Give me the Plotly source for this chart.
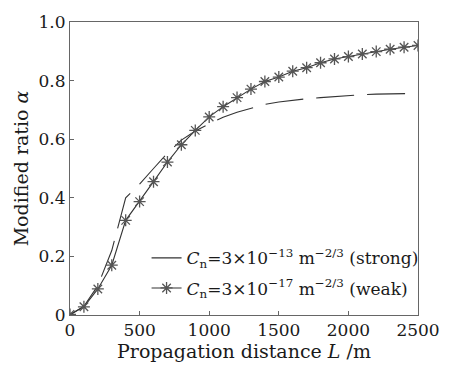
import plotly.graph_objects as go

dist_weak = [0, 100, 200, 300, 400, 500, 600, 700, 800, 900, 1000, 1100, 1200, 1300,
             1400, 1500, 1600, 1700, 1800, 1900, 2000, 2100, 2200, 2300, 2400, 2500]
alpha_weak = [0.002, 0.028, 0.089, 0.17, 0.323, 0.387, 0.455, 0.522, 0.581, 0.63, 0.676,
              0.711, 0.742, 0.771, 0.797, 0.812, 0.832, 0.844, 0.861, 0.874, 0.882,
              0.891, 0.899, 0.907, 0.914, 0.92]

dist_strong = [0, 100, 200, 300, 400, 500, 600, 700, 800, 900, 1000, 1100, 1200, 1300,
               1400, 1500, 1600, 1700, 1800, 1900, 2000, 2100, 2200, 2300, 2400, 2500]
alpha_strong = [0.0, 0.03, 0.1, 0.22, 0.40, 0.447, 0.50, 0.552, 0.597, 0.628, 0.652,
                0.675, 0.692, 0.706, 0.719, 0.727, 0.733, 0.738, 0.742, 0.746, 0.75,
                0.752, 0.754, 0.755, 0.756, 0.756]

x_ticks = [0, 500, 1000, 1500, 2000, 2500]
x_ticktext = ["0", "500", "1000", "1500", "2000", "2500"]
y_ticks = [0, 0.2, 0.4, 0.6, 0.8, 1.0]
y_ticktext = ["0", "0.2", "0.4", "0.6", "0.8", "1.0"]

label_strong = "<i>C</i><sub>n</sub>=3×10<sup>−13</sup> m<sup>−2/3</sup> (strong)"
label_weak = "<i>C</i><sub>n</sub>=3×10<sup>−17</sup> m<sup>−2/3</sup> (weak)"

FONT = "DejaVu Serif"
fig = go.Figure()
fig.add_trace(go.Scatter(
    x=dist_strong, y=alpha_strong, mode="lines", name=label_strong,
    legendgroup="strong",
    line=dict(color="#333333", width=1.1, dash="38px,13px"),
))
fig.add_trace(go.Scatter(
    x=dist_weak, y=alpha_weak, mode="lines+markers", name=label_weak,
    legendgroup="weak",
    line=dict(color="#333333", width=1.1),
    marker=dict(symbol="asterisk-open", size=10, color="#555555",
                line=dict(color="#555555", width=1.3)),
))

fig.update_layout(
    width=452, height=368,
    margin=dict(l=70, r=23, t=20, b=48),
    paper_bgcolor="white", plot_bgcolor="white",
    font=dict(family=FONT, size=17, color="#1a1a1a"),
    showlegend=True,
    legend=dict(x=0.22, y=0.255, xanchor="left", yanchor="top",
                bgcolor="rgba(0,0,0,0)", font=dict(family=FONT, size=17),
                itemwidth=30, traceorder="grouped", tracegroupgap=5),
    xaxis=dict(range=[0, 2500], tickvals=x_ticks, ticktext=x_ticktext,
               showgrid=False, zeroline=False, showline=True, linecolor="#666666",
               linewidth=1, mirror=True, ticks="inside", ticklen=4, tickcolor="#666666",
               tickfont=dict(size=17),
               title=dict(text="Propagation distance <i>L</i> /m", standoff=2,
                          font=dict(family=FONT, size=19))),
    yaxis=dict(range=[0, 1.0], tickvals=y_ticks, ticktext=y_ticktext,
               showgrid=False, zeroline=False, showline=True, linecolor="#666666",
               linewidth=1, mirror=True, ticks="inside", ticklen=4, tickcolor="#666666",
               tickfont=dict(size=17),
               title=dict(text="Modified ratio <i>α</i>", standoff=4,
                          font=dict(family=FONT, size=19))),
)

fig.write_html("out.html")
